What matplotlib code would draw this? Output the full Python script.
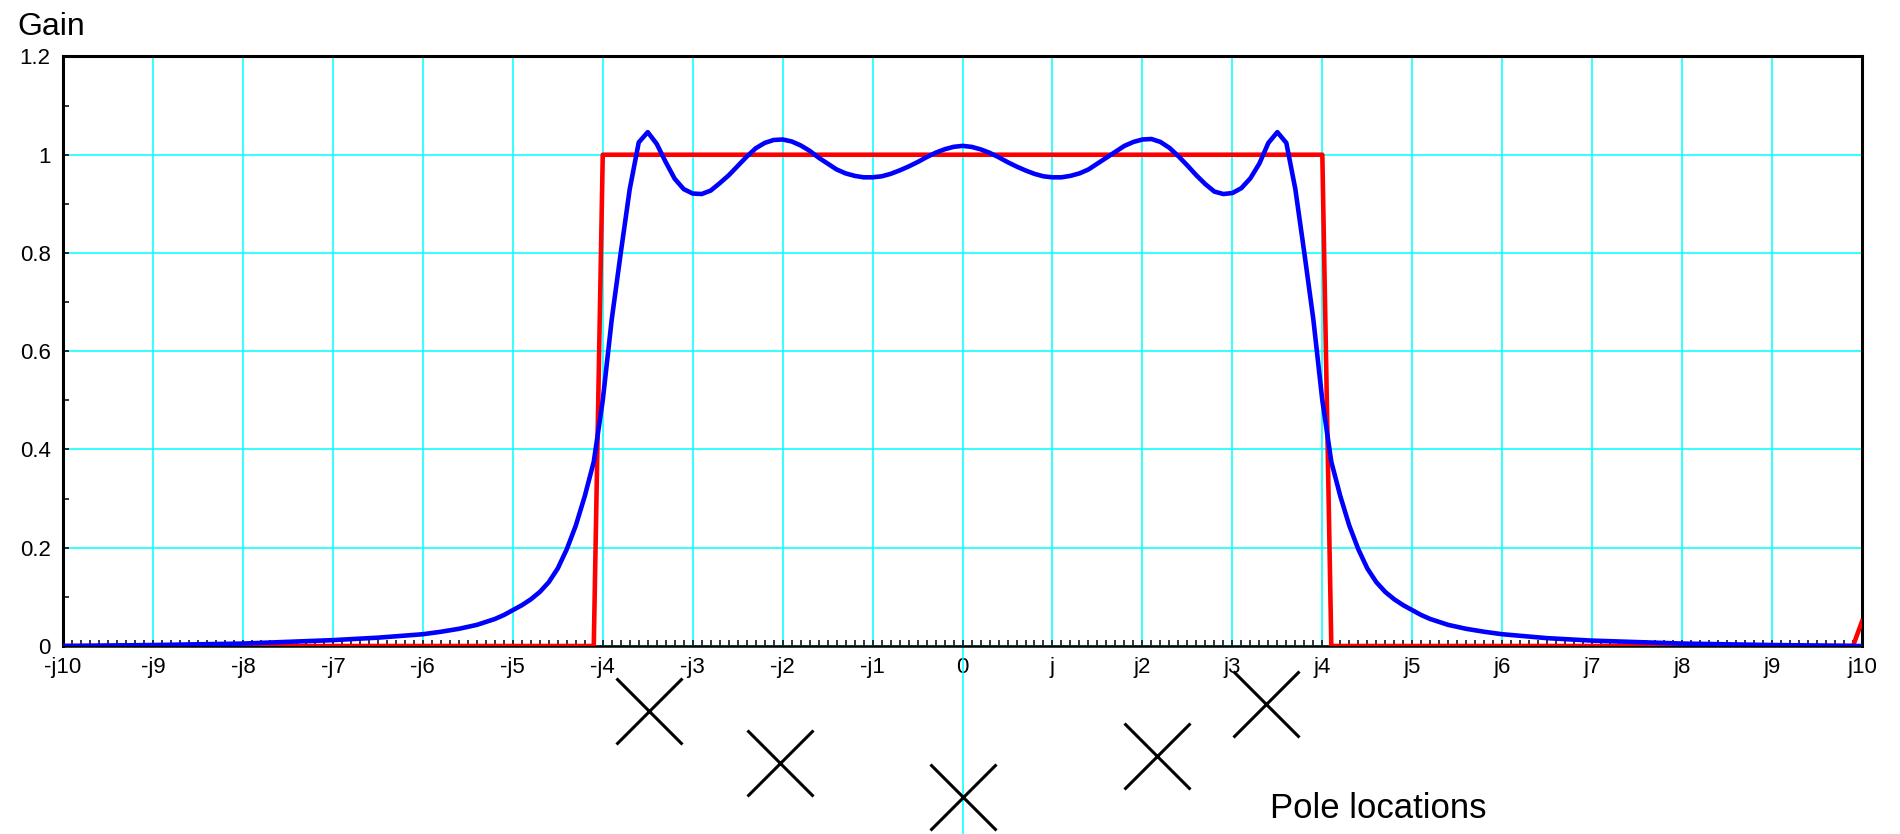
import matplotlib.pyplot as plt
import numpy as np

plt.rcParams['font.family'] = ['Liberation Sans', 'DejaVu Sans']

# ideal (brick wall) response
ideal_x = [-10, -4.1, -4.0, 4.0, 4.1, 9.9, 10]
ideal_gain = [0, 0, 1, 1, 0, 0, 0.05]

# filter response
resp_x = [-10, -9, -8, -7, -6.5, -6, -5.8, -5.6, -5.4, -5.2, -5.1, -5.0, -4.9,
          -4.8, -4.7, -4.6, -4.5, -4.4, -4.3, -4.2, -4.1, -4.0, -3.9, -3.8,
          -3.7, -3.6, -3.5, -3.4, -3.3, -3.2, -3.1, -3.0, -2.9, -2.8, -2.7,
          -2.6, -2.5, -2.4, -2.3, -2.2, -2.1, -2.0, -1.9, -1.8, -1.7, -1.6,
          -1.5, -1.4, -1.3, -1.2, -1.1, -1.0, -0.9, -0.8, -0.7, -0.6, -0.5,
          -0.4, -0.3, -0.2, -0.1, 0.0, 0.1, 0.2, 0.3, 0.4, 0.5, 0.6, 0.7, 0.8,
          0.9, 1.0, 1.1, 1.2, 1.3, 1.4, 1.5, 1.6, 1.7, 1.8, 1.9, 2.0, 2.1, 2.2,
          2.3, 2.4, 2.5, 2.6, 2.7, 2.8, 2.9, 3.0, 3.1, 3.2, 3.3, 3.4, 3.5, 3.6,
          3.7, 3.8, 3.9, 4.0, 4.1, 4.2, 4.3, 4.4, 4.5, 4.6, 4.7, 4.8, 4.9, 5.0,
          5.1, 5.2, 5.4, 5.6, 5.8, 6.0, 6.5, 7.0, 8.0, 9.0, 10]
resp_gain = [0.0, 0.002, 0.005, 0.012, 0.017, 0.024, 0.029, 0.035, 0.043,
             0.055, 0.063, 0.073, 0.083, 0.095, 0.110, 0.130, 0.158, 0.197,
             0.245, 0.305, 0.375, 0.50, 0.665, 0.80, 0.93, 1.025, 1.046, 1.022,
             0.985, 0.951, 0.930, 0.921, 0.920, 0.927, 0.942, 0.958, 0.977,
             0.996, 1.013, 1.024, 1.030, 1.031, 1.027, 1.019, 1.008, 0.994,
             0.982, 0.970, 0.962, 0.957, 0.954, 0.954, 0.956, 0.961, 0.968,
             0.976, 0.985, 0.995, 1.004, 1.011, 1.016, 1.018, 1.016, 1.011,
             1.004, 0.995, 0.985, 0.976, 0.968, 0.961, 0.956, 0.954, 0.954,
             0.957, 0.962, 0.970, 0.982, 0.994, 1.006, 1.018, 1.026, 1.031,
             1.032, 1.026, 1.014, 0.997, 0.978, 0.958, 0.940, 0.925, 0.920,
             0.922, 0.932, 0.952, 0.982, 1.024, 1.046, 1.024, 0.93, 0.80,
             0.665, 0.50, 0.375, 0.305, 0.245, 0.197, 0.158, 0.130, 0.110,
             0.095, 0.083, 0.073, 0.063, 0.055, 0.043, 0.035, 0.029, 0.024,
             0.016, 0.011, 0.005, 0.002, 0.0]

# poles (imag part on x, real part below the axis)
pole_x = [-3.49, -2.03, 0.0, 2.16, 3.37]
pole_y = [-0.132, -0.238, -0.307, -0.224, -0.118]

x_ticks = list(range(-10, 11))
x_labels = ['-j10', '-j9', '-j8', '-j7', '-j6', '-j5', '-j4', '-j3', '-j2', '-j1',
            '0', 'j', 'j2', 'j3', 'j4', 'j5', 'j6', 'j7', 'j8', 'j9', 'j10']
y_ticks = [0, 0.2, 0.4, 0.6, 0.8, 1.0, 1.2]
y_labels = ['0', '0.2', '0.4', '0.6', '0.8', '1', '1.2']

fig = plt.figure(figsize=(19, 8.34), dpi=100)
ax = fig.add_axes([0.0332, 0.2254, 0.9468, 0.7069])

ax.plot(ideal_x, ideal_gain, color='#ff0000', lw=3.3, zorder=3)
ax.plot(resp_x, resp_gain, color='#0000ff', lw=3.3, zorder=4)

# grid line through 0 runs down through the pole plot
ax.plot([0, 0], [0, -0.45], color='cyan', lw=1.1, clip_on=False, zorder=1)
ax.plot(pole_x, pole_y, 'x', color='black', ms=48, mew=2.2, clip_on=False, zorder=5)

ax.set_xlim(-10, 10)
ax.set_ylim(0, 1.2)
ax.set_xticks(x_ticks)
ax.set_xticklabels(x_labels)
ax.set_yticks(y_ticks)
ax.set_yticklabels(y_labels)
ax.set_xticks(np.arange(-10, 10.01, 0.1), minor=True)
ax.set_yticks(np.arange(0, 1.21, 0.1), minor=True)
ax.tick_params(which='both', direction='in', length=4.2, width=1.1, labelsize=16,
               color='black', top=False, right=False)
ax.tick_params(axis='x', pad=8)
ax.tick_params(axis='y', pad=9)
ax.grid(True, which='major', color='cyan', lw=1.1)
ax.set_axisbelow(True)

for s in ax.spines.values():
    s.set_linewidth(2.2)
    s.set_color('black')
ax.spines['bottom'].set_linewidth(1.8)

fig.text(0.009, 0.958, 'Gain', fontsize=23, va='baseline', ha='left')
fig.text(0.6684, 0.0192, 'Pole locations', fontsize=25, va='baseline', ha='left')

fig.savefig('out.png', dpi=100)
